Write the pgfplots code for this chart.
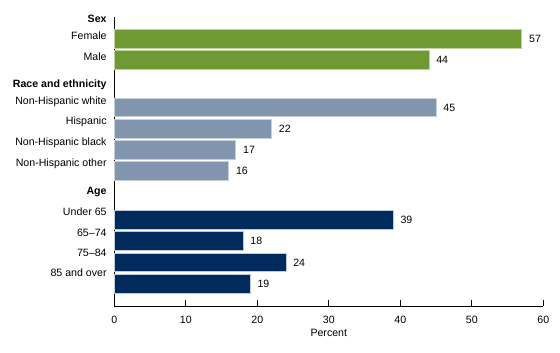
\documentclass[border=0pt]{standalone}
\usepackage{pgfplots}
\pgfplotsset{compat=1.18}
\usepackage{fontspec}
\setmainfont{Liberation Sans}
\definecolor{cgreen}{HTML}{6F9A33}
\definecolor{cgrey}{HTML}{8295AE}
\definecolor{cnavy}{HTML}{002B5C}
\newcommand{\fs}{\fontsize{10.6bp}{12.5bp}\selectfont}
\begin{document}
\fs
\begin{tikzpicture}
\useasboundingbox (0,0) rectangle (560bp,353bp);
\begin{axis}[
  at={(114.3bp,47bp)}, anchor=south west,
  scale only axis, width=429bp, height=289bp,
  xmin=0, xmax=60, ymin=17, ymax=306, y dir=reverse,
  xbar, bar shift=0pt, bar width=18.5,
  axis x line*=bottom, axis y line*=left,
  axis line style={line width=1bp, black, -},
  xtick={0,10,...,60}, tick align=inside, major tick length=6bp,
  xtick style={line width=0.9bp, black},
  ytick={19,36,57,85,101.5,121.7,142.7,163.5,192,211.7,232.7,252.7,273},
  yticklabels={\bfseries Sex, Female, Male, \bfseries Race and ethnicity, Non-Hispanic white, Hispanic, Non-Hispanic black, Non-Hispanic other, \bfseries Age, Under 65, 65--74, 75--84, 85 and over},
  ytick style={draw=none},
  yticklabel style={anchor=east, xshift=-4bp, font=\fs},
  xticklabel style={font=\fs, yshift=-6bp},
  /pgf/number format/assume math mode=true,
  xlabel={Percent}, xlabel style={font=\fs, yshift=1bp},
  nodes near coords,
  nodes near coords style={anchor=west, xshift=3.5bp, font=\fs, black},
  clip=false,
]
\addplot[fill=cgreen, draw=cgreen!45!white, line width=0.7bp] coordinates {(57,38.7) (44,60)};
\addplot[fill=cgrey, draw=cgrey!45!white, line width=0.7bp] coordinates {(45,107.5) (22,129) (17,150) (16,171)};
\addplot[fill=cnavy, draw=cnavy!25!white, line width=0.7bp] coordinates {(39,220) (18,241) (24,262.5) (19,284)};
\end{axis}
\end{tikzpicture}
\end{document}
